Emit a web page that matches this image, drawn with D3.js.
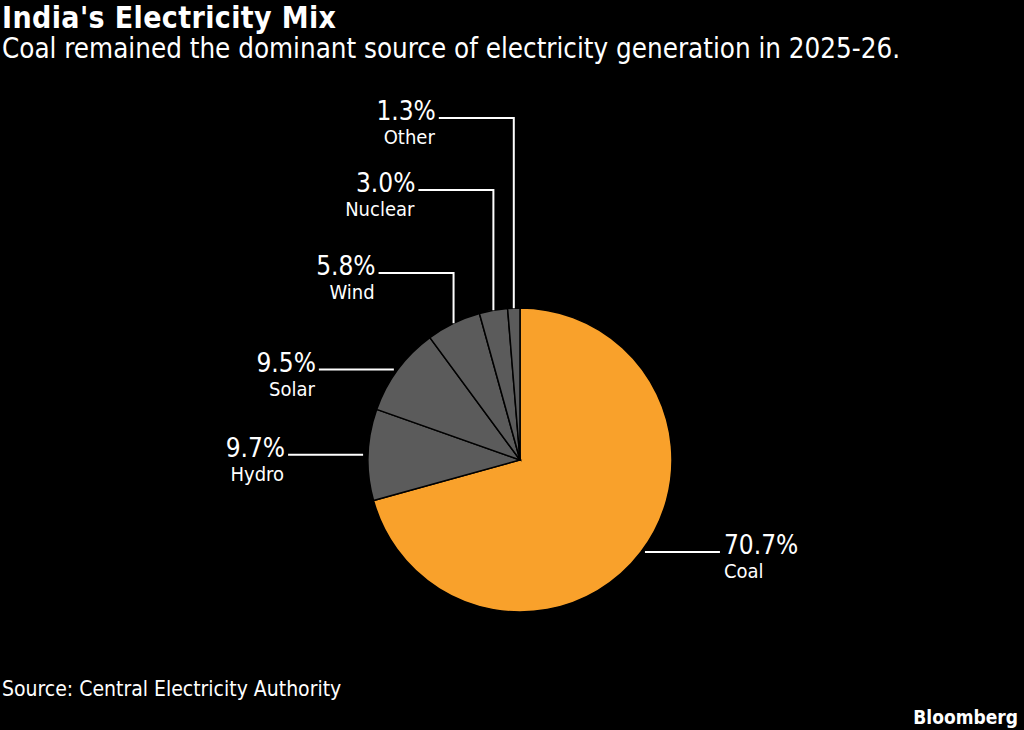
<!DOCTYPE html>
<html>
<head>
<meta charset="utf-8">
<title>India's Electricity Mix</title>
<style>
  body { margin: 0; background: #000; }
  svg { display: block; font-family: "DejaVu Sans Condensed", "DejaVu Sans", sans-serif; }
</style>
</head>
<body>
<svg></svg>
<script src="https://d3js.org/d3.v7.min.js"></script>
<script>
// data
const sources = ["Coal", "Hydro", "Solar", "Wind", "Nuclear", "Other"];
const shares = [70.7, 9.7, 9.5, 5.8, 3.0, 1.3];
const shareLabels = ["70.7%", "9.7%", "9.5%", "5.8%", "3.0%", "1.3%"];

const width = 1024, height = 730;
const svg = d3.select("svg").attr("width", width).attr("height", height);

svg.append("rect").attr("width", width).attr("height", height).attr("fill", "#000");

// title + subtitle
svg.append("text")
    .attr("x", 2).attr("y", 28)
    .attr("fill", "#fff")
    .attr("font-weight", "bold")
    .attr("font-size", 30)
    .attr("textLength", 334)
    .text("India's Electricity Mix");

svg.append("text")
    .attr("x", 2).attr("y", 58)
    .attr("fill", "#fff")
    .attr("font-size", 27.5)
    .text("Coal remained the dominant source of electricity generation in 2025-26.");

// pie
const cx = 520, cy = 460, r = 152;
const g = svg.append("g").attr("transform", `translate(${cx},${cy})`);

const data = sources.map((s, i) => ({ name: s, value: shares[i], label: shareLabels[i] }));
const pie = d3.pie().value(d => d.value).sort(null);
const arcs = pie(data);
const arc = d3.arc().innerRadius(0).outerRadius(r);

const color = d3.scaleOrdinal()
    .domain(sources)
    .range(["#f9a12b", "#5b5b5b", "#5b5b5b", "#5b5b5b", "#5b5b5b", "#5b5b5b"]);

g.selectAll("path")
    .data(arcs)
    .enter()
    .append("path")
    .attr("d", arc)
    .attr("fill", d => color(d.data.name))
    .attr("stroke", "#000")
    .attr("stroke-width", 1.5);

// leader lines: where each one elbows (others go straight out sideways)
const elbowY = { Wind: 273 - cy, Nuclear: 190 - cy, Other: 118 - cy };
const lineLen = 75;

arcs.forEach(a => {
    const mid = (a.startAngle + a.endAngle) / 2;
    const right = Math.sin(mid) > 0;
    let pts, ly;
    if (elbowY[a.data.name] !== undefined) {
        const px = Math.sin(mid) * r, py = -Math.cos(mid) * r;
        ly = elbowY[a.data.name];
        pts = [[px, py], [px, ly], [px - lineLen, ly]];
    } else {
        const px = Math.sin(mid) * (r + 5), py = -Math.cos(mid) * r;
        ly = py;
        pts = [[px, py], [px + (right ? lineLen : -lineLen), py]];
    }
    g.append("path")
        .attr("d", d3.line()(pts))
        .attr("fill", "none")
        .attr("stroke", "#fff")
        .attr("stroke-width", 2);

    const end = pts[pts.length - 1];
    const tx = end[0] + (right ? 4 : -3);
    const anchor = right ? "start" : "end";
    g.append("text")
        .attr("x", tx).attr("y", ly + 2)
        .attr("text-anchor", anchor)
        .attr("fill", "#fff")
        .attr("font-size", 26)
        .text(a.data.label);
    g.append("text")
        .attr("x", tx - (right ? 0 : 1)).attr("y", ly + 26)
        .attr("text-anchor", anchor)
        .attr("fill", "#fff")
        .attr("font-size", 20)
        .text(a.data.name);
});

// footer
svg.append("text")
    .attr("x", 2).attr("y", 696)
    .attr("fill", "#fff")
    .attr("font-size", 21)
    .text("Source: Central Electricity Authority");

svg.append("text")
    .attr("x", 1018).attr("y", 724)
    .attr("text-anchor", "end")
    .attr("fill", "#fff")
    .attr("font-weight", "bold")
    .attr("font-size", 19)
    .text("Bloomberg");
</script>
</body>
</html>
